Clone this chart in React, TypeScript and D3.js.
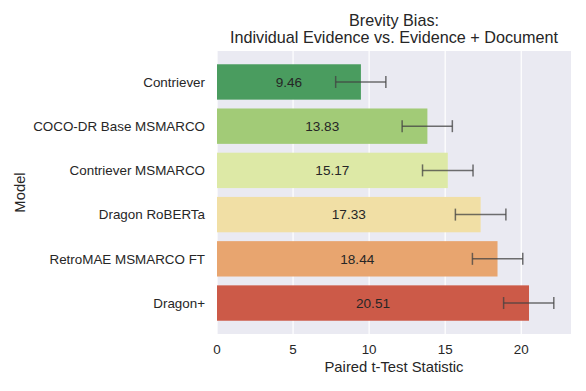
import React, { useRef, useEffect } from 'react';
import * as d3 from 'd3';

const models = [
  'Contriever',
  'COCO-DR Base MSMARCO',
  'Contriever MSMARCO',
  'Dragon RoBERTa',
  'RetroMAE MSMARCO FT',
  'Dragon+',
];
const values = [9.46, 13.83, 15.17, 17.33, 18.44, 20.51];
const ciLow = [7.8, 12.17, 13.51, 15.67, 16.79, 18.84];
const ciHigh = [11.1, 15.47, 16.83, 18.99, 20.1, 22.14];
const colors = ['#4a9c5f', '#a2cb77', '#dde9a6', '#f1dfa5', '#e8a56f', '#cc5a48'];
const xTicks = [0, 5, 10, 15, 20];

const App = () => {
  const svgRef = useRef(null);

  useEffect(() => {
    const svg = d3.select(svgRef.current);
    svg.selectAll('*').remove();

    const W = 586, H = 391;
    const margin = { top: 51, right: 15, bottom: 57, left: 217 };
    const x0 = margin.left, x1 = W - margin.right;
    const y0 = margin.top, y1 = H - margin.bottom;
    const font = '"Liberation Sans", Arial, sans-serif';
    const ink = '#262626';

    const x = d3.scaleLinear().domain([0, 23.27]).range([x0, x1]);
    const y = d3.scaleBand()
      .domain(models)
      .range([y0, y1])
      .paddingInner(0.2)
      .paddingOuter(0.3);

    svg.append('rect')
      .attr('x', x0).attr('y', y0)
      .attr('width', x1 - x0).attr('height', y1 - y0)
      .attr('fill', '#eaeaf2');

    // vertical grid
    svg.append('g')
      .selectAll('line')
      .data(xTicks)
      .enter().append('line')
      .attr('x1', d => x(d)).attr('x2', d => x(d))
      .attr('y1', y0).attr('y2', y1)
      .attr('stroke', '#fff')
      .attr('stroke-width', 1.2);

    const rows = models.map((m, i) => ({ m, v: values[i], lo: ciLow[i], hi: ciHigh[i], c: colors[i] }));

    svg.append('g')
      .selectAll('rect')
      .data(rows)
      .enter().append('rect')
      .attr('x', x(0))
      .attr('y', d => y(d.m))
      .attr('width', d => x(d.v) - x(0))
      .attr('height', y.bandwidth())
      .attr('fill', d => d.c);

    const eb = svg.append('g')
      .attr('stroke', '#424242')
      .attr('stroke-opacity', 0.75)
      .attr('stroke-width', 1.5);
    rows.forEach(d => {
      const cy = y(d.m) + y.bandwidth() / 2;
      eb.append('line')
        .attr('x1', x(d.lo)).attr('x2', x(d.hi))
        .attr('y1', cy).attr('y2', cy);
      [d.lo, d.hi].forEach(v => {
        eb.append('line')
          .attr('x1', x(v)).attr('x2', x(v))
          .attr('y1', cy - 6).attr('y2', cy + 6);
      });
    });

    // value labels
    svg.append('g')
      .selectAll('text')
      .data(rows)
      .enter().append('text')
      .attr('x', d => (x(0) + x(d.v)) / 2)
      .attr('y', d => y(d.m) + y.bandwidth() / 2)
      .attr('dy', '0.35em')
      .attr('text-anchor', 'middle')
      .attr('font-family', font)
      .attr('font-size', 13.6)
      .attr('fill', ink)
      .text(d => d.v.toFixed(2));

    // y tick labels
    svg.append('g')
      .selectAll('text')
      .data(models)
      .enter().append('text')
      .attr('x', x0 - 12)
      .attr('y', d => y(d) + y.bandwidth() / 2)
      .attr('dy', '0.35em')
      .attr('text-anchor', 'end')
      .attr('font-family', font)
      .attr('font-size', 13.4)
      .attr('fill', ink)
      .text(d => d);

    // x tick labels
    svg.append('g')
      .selectAll('text')
      .data(xTicks)
      .enter().append('text')
      .attr('x', d => x(d))
      .attr('y', y1 + 20)
      .attr('text-anchor', 'middle')
      .attr('font-family', font)
      .attr('font-size', 13.4)
      .attr('fill', ink)
      .text(d => d);

    svg.append('text')
      .attr('x', (x0 + x1) / 2)
      .attr('y', y1 + 38)
      .attr('text-anchor', 'middle')
      .attr('font-family', font)
      .attr('font-size', 14.8)
      .attr('fill', ink)
      .text('Paired t-Test Statistic');

    svg.append('text')
      .attr('transform', `translate(25,${(y0 + y1) / 2}) rotate(-90)`)
      .attr('text-anchor', 'middle')
      .attr('font-family', font)
      .attr('font-size', 14.8)
      .attr('fill', ink)
      .text('Model');

    const title = svg.append('text')
      .attr('text-anchor', 'middle')
      .attr('font-family', font)
      .attr('font-size', 16.2)
      .attr('fill', ink);
    title.append('tspan').attr('x', (x0 + x1) / 2).attr('y', 26).text('Brevity Bias:');
    title.append('tspan').attr('x', (x0 + x1) / 2).attr('y', 43).text('Individual Evidence vs. Evidence + Document');
  }, []);

  return (
    <svg ref={svgRef} width={586} height={391}
      style={{ position: 'absolute', left: 0, top: 0, background: '#fff' }} />
  );
};

export default App;
